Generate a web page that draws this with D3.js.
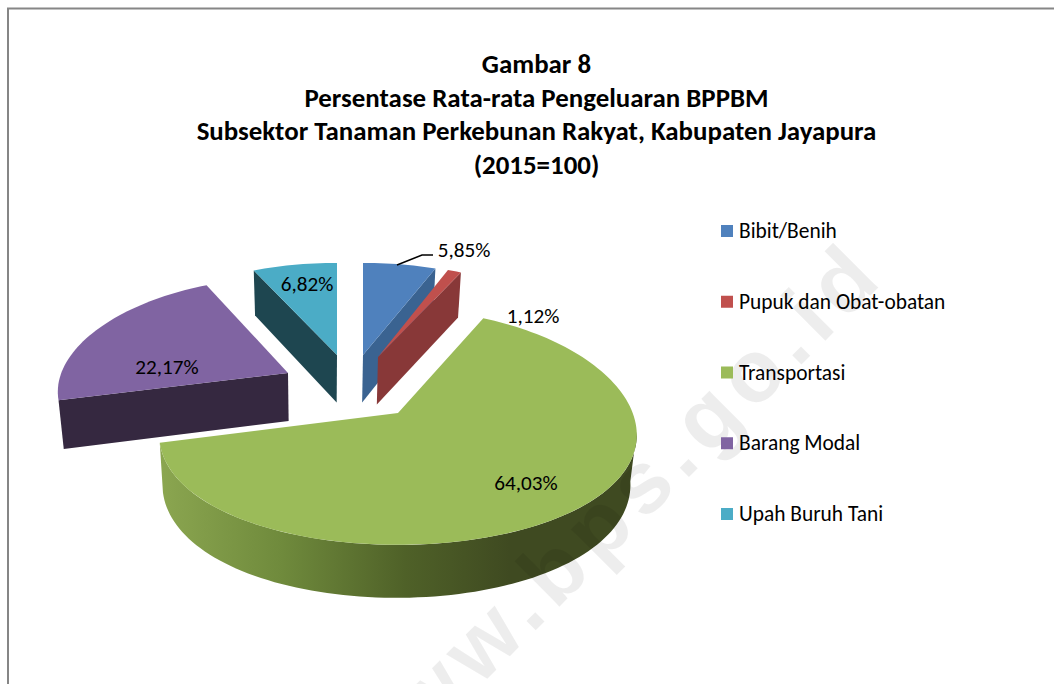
<!DOCTYPE html>
<html><head><meta charset="utf-8">
<script src="https://cdnjs.cloudflare.com/ajax/libs/d3/7.8.5/d3.min.js"></script>
<style>html,body{margin:0;padding:0;background:#fff}svg{display:block}</style>
</head><body><svg id="c" width="1054" height="684"></svg>
<script>
const categories = ["Bibit/Benih","Pupuk dan Obat-obatan","Transportasi","Barang Modal","Upah Buruh Tani"];
const values = [5.85,1.12,64.03,22.17,6.82];
const valueLabels = ["5,85%","1,12%","64,03%","22,17%","6,82%"];
const topColors = ["#4f81bd","#c0504d","#9bbb59","#8064a2","#4bacc6"];
const sideColors = ["#3a6391","#883838","#3f4d21","#352840","#1e4650"];
const titleLines = ["Gambar 8","Persentase Rata-rata Pengeluaran BPPBM","Subsektor Tanaman Perkebunan Rakyat, Kabupaten Jayapura","(2015=100)"];
// explosion layout: screen tip of each slice and horizontal stretch
const tips = [[363,355],[378,357],[398,413],[288,373],[337,355]];
const stretch = [1.09,1.05,1,1.03,1.08];
const labelPos = [[464,250],[533,316],[526,483],[167,367],[307,284]];
const drawOrder = [4,0,1,3,2];

const svg = d3.select("#c");
const FONT = "Carlito, Calibri, Lato, sans-serif";

// frame
svg.append("path").attr("d","M8,684V8.5H1054").attr("fill","none").attr("stroke","#868686").attr("stroke-width",2);

// title
svg.append("g").selectAll("text").data(titleLines).join("text")
  .attr("x",536.5).attr("y",(d,i)=>d3.scaleLinear().domain([0,3]).range([73,174])(i))
  .attr("text-anchor","middle").attr("font-family",FONT).attr("font-weight",700)
  .attr("font-size",26.9).attr("fill","#000").text(d=>d);

// geometry
const R=234.7,P=.184,A=116,Q=.12;
const angle = d3.scaleLinear().domain([0,100]).range([0,2*Math.PI]);
const pie = d3.pie().sort(null).value(d=>d).startAngle(0).endAngle(2*Math.PI);
const arcs = pie(values);
const depthY = d3.scaleLinear().domain([270,545]).range([45,53]);

function tipV(ty,cy){ const d=ty-cy; return d/(A+Q*d); }
function proj(i,a,r,lower){
  const [tx,ty]=tips[i], V0=tipV(ty,413);
  const u=Math.sin(a)*r, v=-Math.cos(a)*r, V=V0+v;
  let x=tx+R*stretch[i]*u/(1-P*V), y=413+A*V/(1-Q*V);
  if(lower){ const yy=y; x=320+(x-320)*.98; y=yy+depthY(yy); }
  return [x,y];
}
const line=d3.line();
function arcPts(i,a0,a1,lower){
  const n=Math.max(2,Math.ceil((a1-a0)/.03)), out=[];
  d3.range(n+1).forEach(k=>out.push(proj(i,a0+(a1-a0)*k/n,1,lower)));
  return out;
}

const defs=svg.append("defs");
const grad=defs.append("linearGradient").attr("id","gs").attr("gradientUnits","userSpaceOnUse")
  .attr("x1",160).attr("x2",510).attr("y1",0).attr("y2",0);
[[0,"#8ba650"],[.35,"#6f8a3c"],[.7,"#4f6128"],[1,"#3f4a21"]].forEach(s=>grad.append("stop").attr("offset",s[0]).attr("stop-color",s[1]));

function watermark(){
  svg.append("text").attr("transform","translate(369.5,796.5) rotate(-45)")
    .attr("font-family","Liberation Sans").attr("font-weight",700).attr("font-size",88)
    .attr("letter-spacing",9).attr("fill","#000").attr("fill-opacity",.07).text("www.bps.go.id");
}

drawOrder.forEach(i=>{
  const d=arcs[i], a0=d.startAngle, a1=d.endAngle, g=svg.append("g");
  const tip=proj(i,0,0,false), tipL=proj(i,0,0,true);
  if(i===2){
    const start=angle(27.5);
    const top=arcPts(i,start,a1,false), bot=arcPts(i,start,a1,true).reverse();
    g.append("path").attr("d",line(top.concat(bot))+"Z").attr("fill","url(#gs)");
    watermark();
  } else {
    const edge = i===3 ? a0 : (i===4 ? a0 : a1);
    const c=proj(i,edge,1,false), cL=proj(i,edge,1,true);
    g.append("path").attr("d",line([tip,c,cL,tipL])+"Z").attr("fill",sideColors[i]);
  }
  svg.append("path").attr("d",line([tip].concat(arcPts(i,a0,a1,false)))+"Z").attr("fill",topColors[i]);
});

// leader
svg.append("path").attr("d",d3.line()([[397,265],[422,255],[433,255]])).attr("fill","none").attr("stroke","#000").attr("stroke-width",1.5);

// data labels
svg.append("g").selectAll("text").data(valueLabels).join("text")
  .attr("x",(d,i)=>labelPos[i][0]).attr("y",(d,i)=>labelPos[i][1]+7)
  .attr("text-anchor","middle").attr("font-family",FONT).attr("font-size",21.2).attr("fill","#000").text(d=>d);

// legend
const ly=d3.scalePoint().domain(categories).range([231,514]);
const lg=svg.append("g").selectAll("g").data(categories).join("g").attr("transform",d=>`translate(721,${ly(d)})`);
lg.append("rect").attr("x",0).attr("y",-6).attr("width",12).attr("height",12).attr("fill",(d,i)=>topColors[i]);
lg.append("text").attr("x",18).attr("y",7).attr("font-family",FONT).attr("font-size",21.4).attr("fill","#000").text(d=>d);
</script></body></html>
